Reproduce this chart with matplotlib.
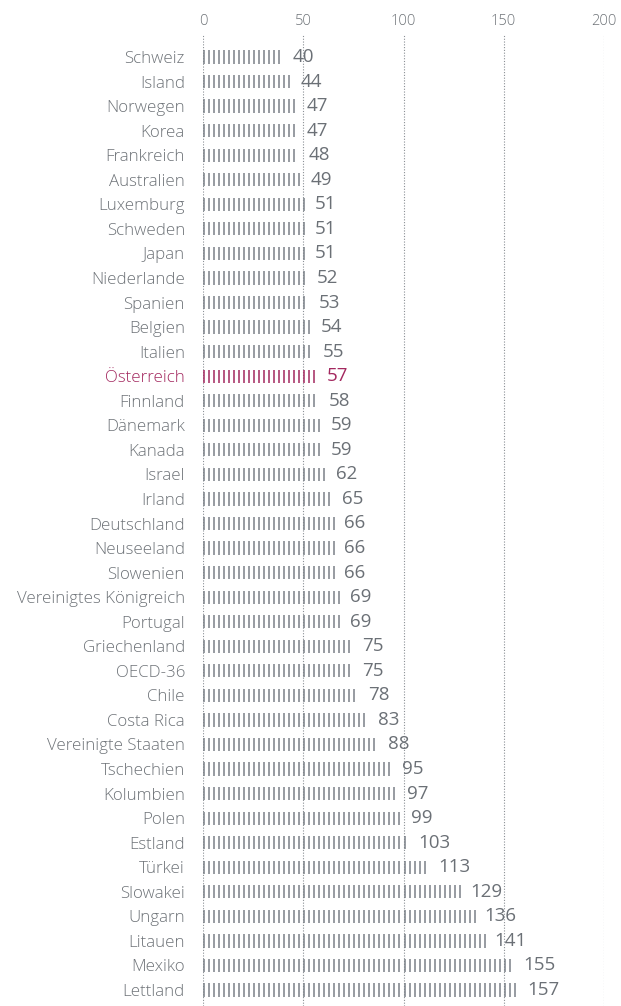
import numpy as np
import matplotlib
matplotlib.use("Agg")
import matplotlib.pyplot as plt

plt.rcParams['font.family'] = ['Open Sans', 'DejaVu Sans']
plt.rcParams['font.weight'] = 300

countries = ["Schweiz", "Island", "Norwegen", "Korea", "Frankreich", "Australien",
             "Luxemburg", "Schweden", "Japan", "Niederlande", "Spanien", "Belgien",
             "Italien", "Österreich", "Finnland", "Dänemark", "Kanada", "Israel",
             "Irland", "Deutschland", "Neuseeland", "Slowenien", "Vereinigtes Königreich",
             "Portugal", "Griechenland", "OECD-36", "Chile", "Costa Rica",
             "Vereinigte Staaten", "Tschechien", "Kolumbien", "Polen", "Estland",
             "Türkei", "Slowakei", "Ungarn", "Litauen", "Mexiko", "Lettland"]
values = [40, 44, 47, 47, 48, 49, 51, 51, 51, 52, 53, 54, 55, 57, 58, 59, 59, 62,
          65, 66, 66, 66, 69, 69, 75, 75, 78, 83, 88, 95, 97, 99, 103, 113, 129,
          136, 141, 155, 157]
highlight = "Österreich"
xticks = [0, 50, 100, 150, 200]

GREY = "#7a8087"
LABEL = "#6e7378"
HL = "#a3285f"
GRID = "#8a8f94"

W, H = 621, 1006
fig = plt.figure(figsize=(W / 100, H / 100), dpi=100)
x0, x1 = 203 / W, 604 / W
top_px, bot_px = 35, 1006
ax = fig.add_axes([x0, 1 - bot_px / H, x1 - x0, (bot_px - top_px) / H])

row_px = (990 - 57) / 38
ax.set_xlim(0, 200)
ax.set_ylim(38 + (bot_px - 990) / row_px, -(57 - top_px) / row_px)

step = 2.5
for i, (c, v) in enumerate(zip(countries, values)):
    col = HL if c == highlight else GREY
    xs = np.arange(0.5, v, step)
    ax.vlines(xs, i - 0.27, i + 0.27, color=col, lw=1.1, zorder=3)
    ax.text(v + 4.5, i, str(v), va="center", ha="left", fontsize=13.5,
            fontweight="normal",
            color=(HL if c == highlight else "#6b7076"), zorder=4)

for xt in xticks:
    ax.axvline(xt, color=GRID, lw=0.8, ls=(0, (1, 1.5)), zorder=1)

ax.set_yticks(range(len(countries)))
ax.set_yticklabels(countries, fontsize=12.2)
for lbl, c in zip(ax.get_yticklabels(), countries):
    lbl.set_color(HL if c == highlight else LABEL)
ax.tick_params(axis="y", length=0, pad=13)

ax.xaxis.tick_top()
ax.set_xticks(xticks)
ax.set_xticklabels([str(t) for t in xticks], fontsize=10.5, color=LABEL)
ax.tick_params(axis="x", length=0, pad=4)

for s in ax.spines.values():
    s.set_visible(False)

fig.savefig("out.png", dpi=100)
